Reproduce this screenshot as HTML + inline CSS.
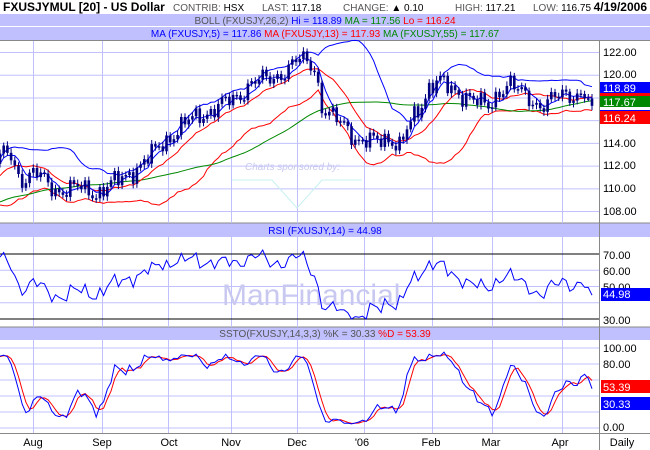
<!DOCTYPE html>
<html><head><meta charset="utf-8"><style>
body{margin:0;background:#fff;}
svg{display:block;font-family:"Liberation Sans",Arial,sans-serif;}
</style></head><body>
<svg id="s" width="650" height="450" xmlns="http://www.w3.org/2000/svg">
<rect width="650" height="450" fill="#fff"/>
<text x="3" y="11" font-size="12" font-weight="bold" fill="#000">FXUSJYMUL [20] - US Dollar</text>
<text x="173" y="11" font-size="10" fill="#555">CONTRIB: <tspan fill="#000">HSX</tspan></text>
<text x="262" y="11" font-size="10" fill="#555">LAST: <tspan fill="#000">117.18</tspan></text>
<text x="343" y="11" font-size="10" fill="#555">CHANGE: <tspan fill="#000">▲ 0.10</tspan></text>
<text x="455" y="11" font-size="10" fill="#555">HIGH: <tspan fill="#000">117.21</tspan></text>
<text x="533" y="11" font-size="10" fill="#555">LOW: <tspan fill="#000">116.75</tspan></text>
<text x="647" y="11" font-size="12" font-weight="bold" text-anchor="end">4/19/2006</text>
<rect x="0" y="14" width="650" height="12" fill="#c0c0ff"/>
<rect x="0" y="27" width="650" height="13" fill="#c0c0ff"/>
<text x="325" y="24" font-size="10" text-anchor="middle" fill="#555">BOLL (FXUSJY,26,2) <tspan fill="#00f">Hi = 118.89</tspan> <tspan fill="#080">MA = 117.56</tspan> <tspan fill="#f00">Lo = 116.24</tspan></text>
<text x="325" y="37" font-size="10" text-anchor="middle" fill="#00f">MA (FXUSJY,5) = 117.86 <tspan fill="#f00">MA (FXUSJY,13) = 117.93</tspan> <tspan fill="#080">MA (FXUSJY,55) = 117.67</tspan></text>
<line x1="0" y1="40.5" x2="650" y2="40.5" stroke="#888"/>
<rect x="0" y="223" width="650" height="14" fill="#c0c0ff"/>
<line x1="0" y1="223" x2="650" y2="223" stroke="#888"/>
<text x="325" y="234" font-size="10" text-anchor="middle" fill="#00f">RSI (FXUSJY,14) = 44.98</text>
<rect x="0" y="327" width="650" height="13" fill="#c0c0ff"/>
<line x1="0" y1="327" x2="650" y2="327" stroke="#888"/>
<text x="325" y="337" font-size="10" text-anchor="middle" fill="#555">SSTO(FXUSJY,14,3,3) %K = 30.33 <tspan fill="#f00">%D = 53.39</tspan></text>
<line x1="0" y1="433.5" x2="650" y2="433.5" stroke="#888"/>
<line x1="599.5" y1="41" x2="599.5" y2="450" stroke="#888"/>
<g id="grid"></g>
<text x="245" y="170" font-size="10" fill="#c8c8f0" font-style="italic">Charts sponsored by:</text>
<polyline points="232,180 272,180 297,208 322,180 362,180" fill="none" stroke="#c8f0f0"/>
<text x="222" y="305" font-size="30" fill="#c8c8f0">ManFinancial</text>
<g id="series"></g>
<text x="603" y="56" font-size="11">122.00</text>
<text x="603" y="78" font-size="11">120.00</text>
<text x="603" y="147" font-size="11">114.00</text>
<text x="603" y="169" font-size="11">112.00</text>
<text x="603" y="192" font-size="11">110.00</text>
<text x="603" y="215" font-size="11">108.00</text>
<rect x="600" y="82" width="50" height="11" fill="#00f"/><text x="603" y="92" font-size="11" fill="#fff">118.89</text>
<rect x="600" y="93" width="50" height="3" fill="#f00"/>
<rect x="600" y="96" width="50" height="11" fill="#080"/><text x="603" y="106" font-size="11" fill="#fff">117.67</text>
<rect x="600" y="110" width="50" height="1" fill="#00f"/>
<rect x="600" y="111" width="50" height="13" fill="#f00"/><text x="603" y="122" font-size="11" fill="#fff">116.24</text>
<text x="603" y="259" font-size="11">70.00</text>
<text x="603" y="275" font-size="11">60.00</text>
<text x="603" y="291" font-size="11">50.00</text>
<text x="603" y="324" font-size="11">30.00</text>
<rect x="601" y="288" width="49" height="13" fill="#00f"/><text x="603" y="298" font-size="11" fill="#fff">44.98</text>
<text x="603" y="352" font-size="11">100.00</text>
<text x="603" y="368" font-size="11">80.00</text>
<text x="603" y="431" font-size="11">0.00</text>
<rect x="601" y="380" width="49" height="13" fill="#f00"/><text x="603" y="391" font-size="11" fill="#fff">53.39</text>
<rect x="601" y="397" width="49" height="13" fill="#00f"/><text x="603" y="408" font-size="11" fill="#fff">30.33</text>
<g font-size="11" text-anchor="middle">
<text x="33" y="446">Aug</text><text x="102" y="446">Sep</text><text x="169" y="446">Oct</text><text x="231" y="446">Nov</text><text x="297" y="446">Dec</text><text x="362" y="446">'06</text><text x="431" y="446">Feb</text><text x="491" y="446">Mar</text><text x="560" y="446">Apr</text><text x="622" y="446">Daily</text>
</g>
</svg>
<script>
var NS="http://www.w3.org/2000/svg";
function el(p,t,a){var e=document.createElementNS(NS,t);for(var k in a)e.setAttribute(k,a[k]);p.appendChild(e);return e;}
var G=document.getElementById('grid'),S=document.getElementById('series');
var vx=[33,102,168,231,297,364,432,492,562];
vx.forEach(function(x){[[41,223],[237,327],[340,433]].forEach(function(r){el(G,'line',{x1:x+.5,x2:x+.5,y1:r[0],y2:r[1],stroke:'#c0c0ff'});});});
function py(p){return 52+(122-p)*11.36;}
for(var p=108;p<=122;p+=2)el(G,'line',{x1:0,x2:599,y1:py(p)+.5,y2:py(p)+.5,stroke:'#c0c0ff'});
function ry(v){return 254+(70-v)*1.625;}
[40,50,60].forEach(function(v){el(G,'line',{x1:0,x2:599,y1:ry(v),y2:ry(v),stroke:'#c0c0ff'});});
[70,30].forEach(function(v){el(G,'line',{x1:0,x2:599,y1:ry(v),y2:ry(v),stroke:'#000'});});
function sy(v){return 348+(100-v)*0.8;}
for(var v=0;v<=100;v+=20)el(G,'line',{x1:0,x2:599,y1:sy(v),y2:sy(v),stroke:'#c0c0ff'});
var K=[[-240,106],[-120,108],[-40,110],[0,112.5],[10,113],[20,111],[35,111.6],[50,110],[60,109.5],[80,110.2],[100,109.8],[120,110.5],[140,112],[160,114],[180,115],[200,116.5],[220,117.5],[240,118],[250,119],[270,119.8],[290,120.8],[300,121.2],[315,120.5],[322,117],[330,116.5],[345,115.8],[360,114],[375,113.8],[390,114.5],[400,114],[410,115.8],[420,117],[430,119],[440,119.3],[450,118.5],[470,118.5],[480,117.5],[490,116.8],[500,118.5],[510,119.3],[520,118.5],[540,117.5],[560,117.8],[575,118.2],[585,118.7],[590,117.5],[595,116.9]];
function kv(x){for(var i=0;i<K.length-1;i++){if(x<=K[i+1][0]){var t=(x-K[i][0])/(K[i+1][0]-K[i][0]);return K[i][1]+t*(K[i+1][1]-K[i][1]);}}return K[K.length-1][1];}
var step=3.7,N0=70,C=[],H=[],L=[],O=[],X=[];
for(var i=-N0;;i++){var x=i*step;if(x>595)break;var c=kv(x)+0.5*Math.sin(i*1.7)+0.4*Math.sin(i*0.63+1)+0.3*Math.sin(i*3.1)+0.25*Math.sin(i*0.37+2);if(x>585)c=kv(x);C.push(c);X.push(x);}
for(var i=0;i<C.length;i++){var o=i?C[i-1]:C[i];O.push(o);H.push(Math.max(o,C[i])+0.25+0.15*Math.abs(Math.sin(i*2.3)));L.push(Math.min(o,C[i])-0.25-0.15*Math.abs(Math.cos(i*1.9)));}
function sma(n,i){var s=0;for(var j=i-n+1;j<=i;j++)s+=C[Math.max(j,0)];return s/n;}
function path(f,yf){var d='';for(var i=N0;i<C.length;i++){var v=f(i);d+=(d?'L':'M')+X[i].toFixed(1)+','+yf(v).toFixed(1);}return d;}
function sd(n,i){var m=sma(n,i),s=0;for(var j=i-n+1;j<=i;j++){var d=C[Math.max(j,0)]-m;s+=d*d;}return Math.sqrt(s/n);}
el(S,'path',{d:path(function(i){return sma(20,i)+1.8*sd(20,i);},py),fill:'none',stroke:'#00f'});
el(S,'path',{d:path(function(i){return sma(20,i)-1.8*sd(20,i);},py),fill:'none',stroke:'#f00'});
el(S,'path',{d:path(function(i){return sma(55,i);},py),fill:'none',stroke:'#080'});
el(S,'path',{d:path(function(i){return sma(13,i);},py),fill:'none',stroke:'#f00'});
el(S,'path',{d:path(function(i){return sma(5,i);},py),fill:'none',stroke:'#00f'});
for(var i=N0;i<C.length;i++){var x=X[i];
el(S,'line',{x1:x,x2:x,y1:py(H[i]),y2:py(L[i]),stroke:'#000080'});
var t=py(Math.max(O[i],C[i])),b=py(Math.min(O[i],C[i]));
el(S,'rect',{x:x-1.3,y:t,width:2.6,height:Math.max(b-t,1.5),fill:'#000080'});}
var R=[],ag=0,al=0;for(var i=1;i<C.length;i++){var d=C[i]-C[i-1],g=Math.max(d,0),l=Math.max(-d,0);if(i<=14){ag+=g/14;al+=l/14;}else{ag=(ag*13+g)/14;al=(al*13+l)/14;}R[i]=100-100/(1+ag/(al||1e-6));}
el(S,'path',{d:path(function(i){return Math.max(30,Math.min(76,R[i]));},ry),fill:'none',stroke:'#00f'});
var Kr=[],Ks=[],D=[];for(var i=0;i<C.length;i++){var hh=-1e9,ll=1e9;for(var j=Math.max(0,i-13);j<=i;j++){hh=Math.max(hh,H[j]);ll=Math.min(ll,L[j]);}Kr[i]=100*(C[i]-ll)/(hh-ll);}
for(var i=0;i<C.length;i++){var s=0;for(var j=i-2;j<=i;j++)s+=Kr[Math.max(j,0)];Ks[i]=s/3;}
for(var i=0;i<C.length;i++){var s=0;for(var j=i-2;j<=i;j++)s+=Ks[Math.max(j,0)];D[i]=s/3;}
el(S,'path',{d:path(function(i){return D[i];},sy),fill:'none',stroke:'#f00'});
el(S,'path',{d:path(function(i){return Ks[i];},sy),fill:'none',stroke:'#00f'});
</script>
</body></html>
